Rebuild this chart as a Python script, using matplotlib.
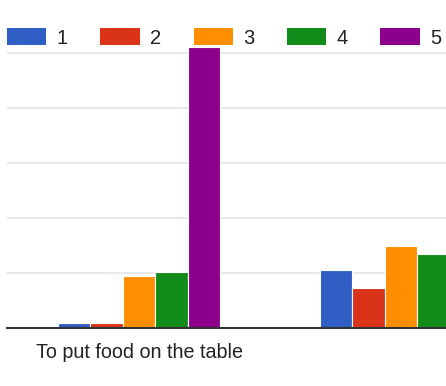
import numpy as np
import matplotlib.pyplot as plt
from matplotlib.patches import Patch

plt.rcParams['font.family'] = ['Liberation Sans', 'DejaVu Sans']

categories = ["To put food on the table", ""]
series_names = ["1", "2", "3", "4", "5"]
colors = ["#2f5ec4", "#d9331a", "#ff8f00", "#118c1b", "#8c008c"]
# one list per rating, values for each category
values = {
    "1": [0.8, 10.5],
    "2": [0.8, 7.2],
    "3": [9.5, 14.9],
    "4": [10.1, 13.4],
    "5": [51.2, 8.0],
}

fig = plt.figure(figsize=(4.46, 3.86), dpi=100)
ax = fig.add_axes([7 / 446, 58.3 / 386, 1 - 7 / 446, 302 / 386])

x = np.arange(len(categories))
w = 0.124
for i, name in enumerate(series_names):
    ax.bar(x + (i - 2) * w, values[name], width=w, color=colors[i],
           edgecolor="white", linewidth=0.8, zorder=3)

ax.set_ylim(0, 55)
ax.set_xlim(-0.504, 1.172)
ax.set_yticks([10, 20, 30, 40, 50])
ax.yaxis.grid(True, color="#e3e3e3", linewidth=1.2, zorder=0)
ax.tick_params(axis="y", left=False, labelleft=False)
ax.set_xticks(x)
ax.set_xticklabels(categories, fontsize=14.2, color="#222222")
ax.tick_params(axis="x", length=0, pad=11)
for s in ["left", "right", "top"]:
    ax.spines[s].set_visible(False)
ax.spines["bottom"].set_color("#333333")
ax.spines["bottom"].set_linewidth(1.5)
ax.spines["bottom"].set_zorder(4)

handles = [Patch(facecolor=c, edgecolor="none") for c in colors]
fig.legend(handles, series_names, loc="center left",
           bbox_to_anchor=(7 / 446, 1 - 38 / 386), ncol=5, frameon=False,
           fontsize=14.5, labelcolor="#222222", handlelength=1.95,
           handleheight=0.9, handletextpad=0.5, columnspacing=1.63,
           borderpad=0, borderaxespad=0)

fig.savefig("out.png", dpi=100)
